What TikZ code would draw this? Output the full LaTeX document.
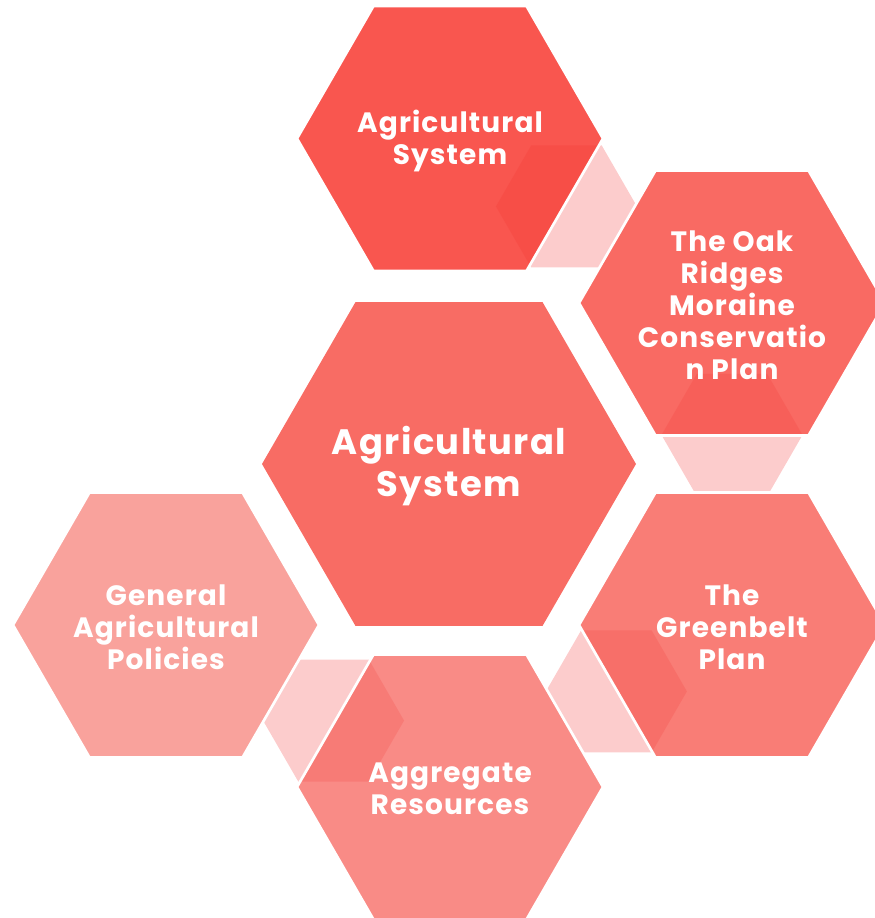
\documentclass[tikz,border=0pt]{standalone}
\usepackage{fontspec}
\setmainfont{Poppins}[LetterSpace=4]
\usetikzlibrary{calc}
\definecolor{cA}{HTML}{F9564F}
\definecolor{cB}{HTML}{F96A63}
\definecolor{cC}{HTML}{F86C64}
\definecolor{cD}{HTML}{F97D76}
\definecolor{cE}{HTML}{F98B86}
\definecolor{cF}{HTML}{F9A29C}
\definecolor{linkpink}{HTML}{FCCCCC}
\definecolor{shadec}{HTML}{F22120}
\newcommand{\hexshape}[2]{(#1) ++(#2,0) -- ++({-0.5*#2},{-0.866*#2}) -- ++({-#2},0) -- ++({-0.5*#2},{0.866*#2}) -- ++({0.5*#2},{0.866*#2}) -- ++({#2},0) -- cycle}
\begin{document}
\begin{tikzpicture}[x=0.75pt,y=-0.75pt,
  lbl/.style={text=white,align=center,inner sep=0pt,yshift=-1.5pt,font=\bfseries\fontsize{21}{24}\selectfont},
  biglbl/.style={lbl,font=\bfseries\fontsize{26.5}{31.5}\selectfont},
  link/.style={fill=linkpink},
  shadefill/.style={fill=shadec,fill opacity=0.15},
  gap/.style={draw=white,line width=2pt}]
\useasboundingbox (0,0) rectangle (875,918);
% hexagon centres
\coordinate (hA) at (450,138.5);
\coordinate (hB) at (732,303);
\coordinate (hC) at (449,464);
\coordinate (hD) at (732,625);
\coordinate (hE) at (450,787);
\coordinate (hF) at (166,625);
% connector hexagon centres
\coordinate (k1) at ($(hA)!0.413!(hB)$);
\coordinate (k2) at ($(hB)!0.41!(hD)$);
\coordinate (k3) at ($(hD)!0.41!(hE)$);
\coordinate (k4) at ($(hE)!0.41!(hF)$);
% connectors (light)
\foreach \k in {k1,k2,k3,k4}{\fill[link] \hexshape{\k}{70.5};}
% main hexagons
\fill[cA] \hexshape{hA}{153};
\fill[cB] \hexshape{hB}{153};
\fill[cC] \hexshape{hC}{187};
\fill[cD] \hexshape{hD}{153};
\fill[cE] \hexshape{hE}{153};
\fill[cF] \hexshape{hF}{153};
% darker overlap of connectors inside their source hexagon
\begin{scope}\clip \hexshape{hA}{153}; \fill[shadefill] \hexshape{k1}{70.5};\end{scope}
\begin{scope}\clip \hexshape{hB}{153}; \fill[shadefill] \hexshape{k2}{70.5};\end{scope}
\begin{scope}\clip \hexshape{hD}{153}; \fill[shadefill] \hexshape{k3}{70.5};\end{scope}
\begin{scope}\clip \hexshape{hE}{153}; \fill[shadefill] \hexshape{k4}{70.5};\end{scope}
% white gaps
\foreach \h in {hA,hB,hD,hE,hF}{\draw[gap] \hexshape{\h}{153};}
% labels
\node[lbl] (tA) at (hA) {Agricultural\\System};
\node[lbl] (tB) at (hB) {The Oak\\Ridges\\Moraine\\Conservatio\\n Plan};
\node[biglbl] (tC) at (hC) {Agricultural\\System};
\node[lbl] (tD) at (hD) {The\\Greenbelt\\Plan};
\node[lbl] (tE) at (hE) {Aggregate\\Resources};
\node[lbl] (tF) at (hF) {General\\Agricultural\\Policies};
\end{tikzpicture}
\end{document}
